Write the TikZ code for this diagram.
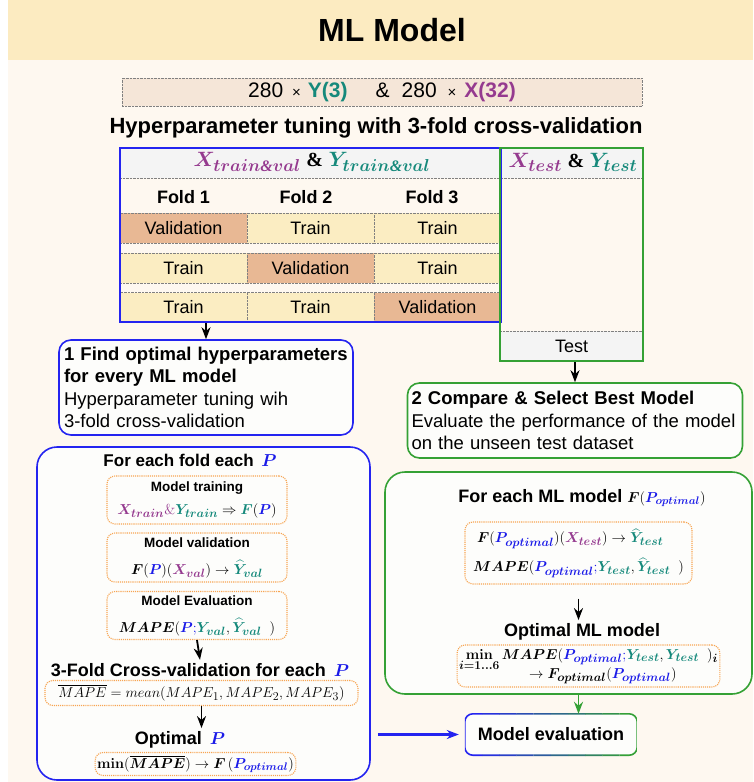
\documentclass[tikz,border=0pt]{standalone}
\usepackage{amsmath}
\usepackage{bm}
\usepackage[no-math]{fontspec}
\setmainfont{Liberation Sans}
\newfontfamily\serifb{Liberation Serif}
\usepackage{xcolor}
\usepackage{tikz}
\usetikzlibrary{arrows.meta,positioning,calc}

\definecolor{bannerc}{HTML}{FCEBC1}
\definecolor{creamc}{HTML}{FEF8F0}
\definecolor{datac}{HTML}{F5E6D8}
\definecolor{trainfill}{HTML}{FBEDC2}
\definecolor{validfill}{HTML}{E8B894}
\definecolor{headc}{HTML}{F4F4F4}
\definecolor{boxc}{HTML}{FDFDFB}
\definecolor{mlblue}{HTML}{2424F0}
\definecolor{mlgreen}{HTML}{35A135}
\definecolor{mlorange}{HTML}{F7A552}
\definecolor{mlpurple}{HTML}{953A8F}
\definecolor{mlteal}{HTML}{15897B}
\definecolor{pblue}{HTML}{1A1AE8}

\newcommand{\fstitle}{\fontsize{32}{36}\selectfont\bfseries}
\newcommand{\fssub}{\fontsize{22}{26}\selectfont\bfseries}
\newcommand{\fsdata}{\fontsize{21}{25}\selectfont}
\newcommand{\fscell}{\fontsize{18}{22}\selectfont}
\newcommand{\fsbody}{\fontsize{18.5}{22.5}\selectfont}
\newcommand{\fshead}{\fontsize{18}{22}\selectfont\bfseries}
\newcommand{\fssmall}{\fontsize{13.5}{16}\selectfont\bfseries}
\newcommand{\fsmath}{\fontsize{15}{20}\selectfont}
\newcommand{\fsmathh}{\fontsize{20}{24}\selectfont}

% larger subscripts, closer to the original formulas
\DeclareMathSizes{20}{20}{16}{12}
\DeclareMathSizes{15}{15}{12}{9}
\DeclareMathSizes{14.5}{14.5}{11.5}{8.5}
\DeclareMathSizes{14}{14}{11}{8}
\DeclareMathSizes{13.5}{13.5}{10.8}{8}

\newcommand{\amp}{\text{\serifb\bfseries\&}}
\newcommand{\ampi}{\text{\serifb\bfseries\itshape\&}}
\newcommand{\Xs}[1]{\textcolor{mlpurple}{\bm{X}_{\bm{#1}}}}
\newcommand{\Ys}[1]{\textcolor{mlteal}{\bm{Y}_{\bm{#1}}}}
\newcommand{\Yh}[1]{\textcolor{mlteal}{\widehat{\bm{Y}}_{\bm{#1}}}}
\newcommand{\Pb}{\textcolor{pblue}{\bm{P}}}
\newcommand{\Popt}{\textcolor{pblue}{\bm{P}_{\bm{optimal}}}}

\tikzstyle{block} = [rectangle, draw=mlblue, line width=1.6pt, rounded corners=12pt, fill=boxc, align=left, inner xsep=5pt, font=\fsbody]
\tikzstyle{gblock} = [block, draw=mlgreen]
\tikzstyle{bigbox} = [rectangle, line width=1.6pt, rounded corners=20pt, fill=boxc]
\tikzstyle{obox} = [rectangle, draw=mlorange, densely dotted, line width=1.1pt, rounded corners=8pt, fill=boxc, align=center, inner sep=2pt, font=\fsmath]
\tikzstyle{cell} = [rectangle, draw=gray, densely dotted, minimum width=127pt, minimum height=30pt, font=\fscell]
\tikzstyle{traincell} = [cell, fill=trainfill]
\tikzstyle{validcell} = [cell, fill=validfill]
\tikzstyle{headtxt} = [font=\fshead]
\tikzset{edge/.style = {
    >=Stealth,
    -{>[length=12pt, width=9pt]},
    line width=1.8pt,
  }
}

\begin{document}
\begin{tikzpicture}[x=1pt, y=-1pt]
  \useasboundingbox (0,0) rectangle (753,782);
  % background
  \fill[creamc] (8,60) rectangle (753,782);
  \fill[bannerc] (8,0) rectangle (753,60);
  \node[font=\fstitle] (ttl) at (392,30) {ML Model};

  % data
  \node[draw=gray, densely dotted, fill=datac, minimum width=520pt, minimum height=28pt, font=\fsdata] (data) at (382,92)
    {280\hspace{9pt}{\fontsize{15}{15}\selectfont ×}\hspace{7pt}\textcolor{mlteal}{\textbf{Y(3)}}\hspace{28pt}\&\hspace{12pt}280\hspace{11pt}{\fontsize{15}{15}\selectfont ×}\hspace{8pt}\textcolor{mlpurple}{\textbf{X(32)}}};
  \node[font=\fssub] (sub) at (376,128) {Hyperparameter tuning with 3-fold cross-validation};

  % table
  \fill[headc] (120,148) rectangle (643,178);
  \fill[headc] (500,331) rectangle (643,361);
  \draw[gray, densely dotted] (120,178) -- (643,178);
  \draw[gray, densely dotted] (500,331) -- (643,331);
  \node[font=\fsmathh] (hdtv) at (312,162) {$\Xs{train\ampi val}$ $\amp$ $\Ys{train\ampi val}$};
  \node[font=\fsmathh] (hdtt) at (573,162) {$\Xs{test}$ $\amp$ $\Ys{test}$};

  \node[headtxt] (f1) at (183.5,197) {Fold 1};
  \node[headtxt] (f2) at (306,197) {Fold 2};
  \node[headtxt] (f3) at (432,197) {Fold 3};

  \node[validcell] (c11) at (183.5,228) {Validation};
  \node[traincell] (c12) at (310.5,228) {Train};
  \node[traincell] (c13) at (437.5,228) {Train};
  \node[traincell] (c21) at (183.5,268) {Train};
  \node[validcell] (c22) at (310.5,268) {Validation};
  \node[traincell] (c23) at (437.5,268) {Train};
  \node[traincell] (c31) at (183.5,307.5) {Train};
  \node[traincell] (c32) at (310.5,307.5) {Train};
  \node[validcell] (c33) at (437.5,307.5) {Validation};

  \node[draw=mlblue, line width=2pt, minimum width=381pt, minimum height=174pt, inner sep=0] (tv) at (310.5,235) {};
  \node[draw=mlgreen, line width=2pt, minimum width=143pt, minimum height=213pt, inner sep=0] (tt) at (571.5,254.5) {};
  \node[font=\fscell] (testn) at (571.5,346) {Test};

  % steps
  \node[block, text width=284pt, minimum height=95pt] (box1) at (206,387.5)
    {\textbf{1 Find optimal hyperparameters}\\\textbf{for every ML model}\\Hyperparameter tuning wih\\3-fold cross-validation};
  \node[gblock, text width=327pt, minimum height=75pt, inner xsep=4pt] (box2) at (575,420.5)
    {\textbf{2 Compare \& Select Best Model}\\Evaluate the performance of the model\\on the unseen test dataset};

  % left: cross-validation
  \node[bigbox, draw=mlblue, minimum width=333pt, minimum height=333pt] (bbig) at (203.5,613.5) {};
  \node[headtxt, font=\fontsize{17}{20}\selectfont\bfseries] (foldhd) at (190,460) {For each fold each \,$\Pb$};
  \node[obox, minimum width=180pt, minimum height=48pt] (trainbox) at (197,500)
    {{\fssmall Model training}\\[3pt]$\Xs{train}\textcolor{mlpurple}{\&}\Ys{train}\Rightarrow\textcolor{mlteal}{\bm{F}}(\Pb)$};
  \node[obox, minimum width=180pt, minimum height=49pt] (valbox) at (197,557.5)
    {{\fssmall Model validation}\\[7pt]$\bm{F}(\Pb)(\Xs{val})\rightarrow\Yh{val}$};
  \node[obox, minimum width=180pt, minimum height=48pt] (evalbox) at (197,615.5)
    {{\fssmall Model Evaluation}\\[7pt]$\bm{MAPE}(\Pb\textcolor{pblue}{;}\Ys{val},\Yh{val}\;\;)$};
  \node[headtxt] (cvhd) at (200,670) {3-Fold Cross-validation for each \,$\Pb$};
  \node[obox, minimum width=313pt, minimum height=25pt, font=\fontsize{14.5}{17}\selectfont] (mapebox) at (201.5,693)
    {$\overline{MAPE}=mean(MAPE_1,MAPE_2,MAPE_3)$};
  \node[headtxt] (opthd) at (180,740) {Optimal \,$\Pb$};
  \node[obox, minimum width=193pt, minimum height=23pt, font=\fontsize{13.5}{16}\selectfont] (minbox) at (195.5,764)
    {$\mathbf{min}(\overline{\bm{MAPE}})\rightarrow\bm{F}\,(\Popt)$};

  % right: test evaluation
  \node[bigbox, draw=mlgreen, minimum width=367pt, minimum height=222pt] (gbig) at (568.5,583) {};
  \node[headtxt] (mlhd) at (582,498) {For each ML model {\fontsize{14}{16}\selectfont$\bm{F}(\Popt)$}};
  \node[obox, align=left, minimum width=227pt, minimum height=62pt] (testbox) at (578.5,553)
    {\hspace*{4pt}$\bm{F}(\Popt)(\Xs{test})\rightarrow\Yh{test}$\\[9pt]$\bm{MAPE}(\Popt\textcolor{pblue}{;}\Ys{test},\Yh{test}\;\;)$};
  \node[headtxt] (optmlhd) at (582,632) {Optimal ML model};
  \node[obox, align=left, minimum width=243pt, minimum height=42pt, font=\fontsize{14.5}{17}\selectfont] (optmlbox) at (588.5,666)
    {$\mathop{\mathbf{min}}\limits_{\bm{i=1\ldots6}}\bm{MAPE}(\Popt\textcolor{pblue}{;}\Ys{test},\Ys{test}\;\;)_{\bm{i}}$\\[-5pt]\hspace*{70pt}$\rightarrow\bm{F}_{\bm{optimal}}(\Popt)$};

  \node[rectangle, fill=boxc, rounded corners=8pt, minimum width=172pt, minimum height=41pt, font=\fshead] (modeleval) at (551,734.5) {Model evaluation};
  \foreach \i in {0,...,9} {
    \pgfmathtruncatemacro{\pc}{\i*11}
    \begin{scope}
      \clip ($(modeleval.south west)+(\i*17.2,4)$) rectangle ++(17.3,-49);
      \draw[mlgreen!\pc!mlblue, line width=1.6pt, rounded corners=8pt] (modeleval.south west) rectangle (modeleval.north east);
    \end{scope}
  }

  %edges
  \draw[edge] (tv.south -| box1.north) to (box1.north);
  \draw[edge] (tt.south -| box2.north) to (box2.north);
  \draw[edge] (evalbox.south) to (cvhd.north);
  \draw[edge] (mapebox.south) to (opthd.north -| mapebox.south);
  \draw[edge, shorten <=14pt] (testbox.south) to (optmlhd.north -| testbox.south);
  \draw[edge, mlgreen] (gbig.south -| testbox.south) to (modeleval.north -| testbox.south);
  \draw[edge, mlblue, line width=2.2pt, shorten <=7pt, shorten >=6pt] (bbig.east |- modeleval.west) to (modeleval.west);
\end{tikzpicture}
\end{document}
